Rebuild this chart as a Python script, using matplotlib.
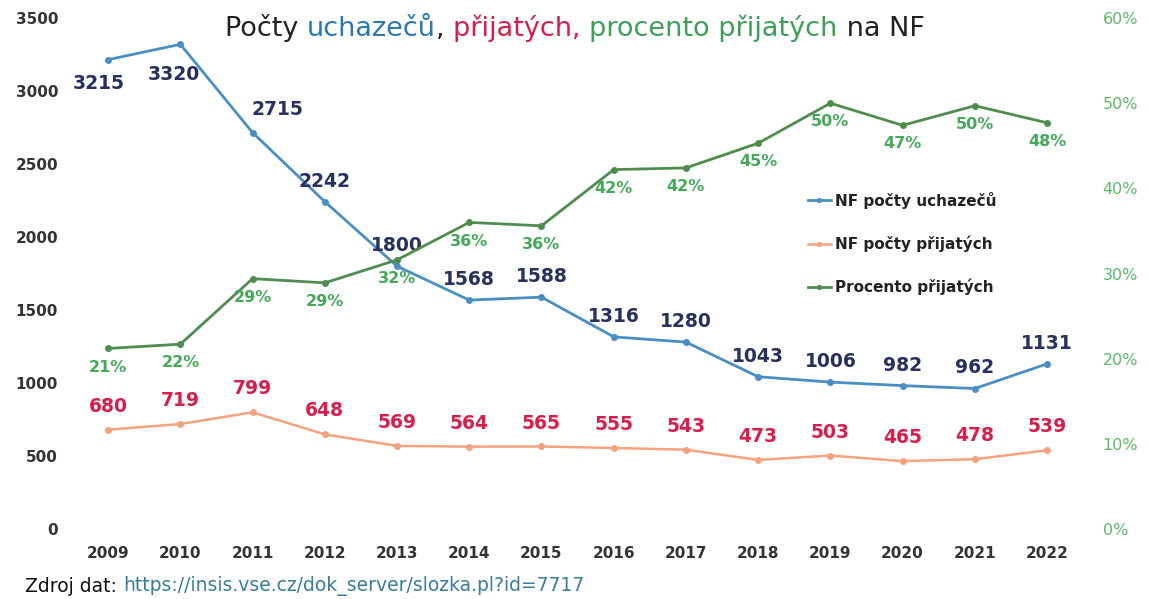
import matplotlib.pyplot as plt
import matplotlib.ticker as mticker

years = ["2009", "2010", "2011", "2012", "2013", "2014", "2015",
         "2016", "2017", "2018", "2019", "2020", "2021", "2022"]
uchazeci = [3215, 3320, 2715, 2242, 1800, 1568, 1588,
            1316, 1280, 1043, 1006, 982, 962, 1131]
prijati = [680, 719, 799, 648, 569, 564, 565,
           555, 543, 473, 503, 465, 478, 539]
procento = [21.2, 21.7, 29.4, 28.9, 31.6, 36.0, 35.6,
            42.2, 42.4, 45.3, 50.0, 47.4, 49.7, 47.7]

c_blue = "#4a8fc4"
c_orange = "#f5a27e"
c_green = "#4f8c50"
c_lab_blue = "#28305e"
c_lab_red = "#d81e4c"
c_lab_green = "#45a85a"

plt.rcParams.update({"font.family": "DejaVu Sans"})

fig = plt.figure(figsize=(11.49, 5.99), dpi=100)
ax = fig.add_axes([0.0627, 0.1169, 0.88, 0.853])
ax2 = ax.twinx()

x = list(range(len(years)))
l1, = ax.plot(x, uchazeci, color=c_blue, lw=2, marker="o", ms=4,
              label="NF počty uchazečů", zorder=3)
l2, = ax.plot(x, prijati, color=c_orange, lw=1.8, marker="o", ms=4,
              label="NF počty přijatých", zorder=3)
l3, = ax2.plot(x, [p / 100 for p in procento], color=c_green, lw=2,
               marker="o", ms=4, label="Procento přijatých", zorder=3)

ax.set_xlim(-0.5, len(years) - 0.5)
ax.set_ylim(0, 3500)
ax2.set_ylim(0, 0.6)
ax.set_yticks(range(0, 3501, 500))
ax2.set_yticks([i / 10 for i in range(7)])
ax2.yaxis.set_major_formatter(mticker.PercentFormatter(1.0, decimals=0))
ax.set_xticks(x)
ax.set_xticklabels(years)

for a in (ax, ax2):
    for s in a.spines.values():
        s.set_visible(False)
    a.tick_params(length=0)
ax.tick_params(axis="y", labelsize=11, labelcolor="#333333", pad=10)
ax.tick_params(axis="x", labelsize=11, labelcolor="#333333", pad=12)
for t in ax.get_yticklabels() + ax.get_xticklabels():
    t.set_fontweight("bold")
ax2.tick_params(axis="y", labelsize=11.5, labelcolor="#5cb86a", pad=14)

# data labels
for i, v in enumerate(uchazeci):
    if i == 0:
        dx, dy, va = -7, -10, "top"
    elif i == 1:
        dx, dy, va = -5, -15, "top"
    elif i == 2:
        dx, dy, va = 18, 10, "bottom"
    else:
        dx, dy, va = 0, 8, "bottom"
    ax.annotate(str(v), (i, v), textcoords="offset points", xytext=(dx, dy),
                ha="center", va=va, fontsize=13.5, fontweight="bold",
                color=c_lab_blue, zorder=5)
for i, v in enumerate(prijati):
    ax.annotate(str(v), (i, v), textcoords="offset points", xytext=(0, 10),
                ha="center", va="bottom", fontsize=13.5, fontweight="bold",
                color=c_lab_red, zorder=5)
for i, v in enumerate(procento):
    ax2.annotate(f"{v:.0f}%", (i, v / 100), textcoords="offset points",
                 xytext=(0, -8), ha="center", va="top", fontsize=11.5,
                 fontweight="bold", color=c_lab_green, zorder=5)

ax.legend(handles=[l1, l2, l3], loc="upper left",
          bbox_to_anchor=(800 / 1149, 1 - 184 / 599),
          bbox_transform=fig.transFigure, frameon=False, fontsize=11,
          handlelength=1.5, handletextpad=0.3, labelspacing=1.75,
          borderpad=0, markerscale=0.7)
for t in ax.get_legend().get_texts():
    t.set_fontweight("bold")
    t.set_color("#222222")

# multi-coloured title
parts = [("Počty ", "#222222"), ("uchazečů", "#2b78b2"), (", ", "#222222"),
         ("přijatých, ", c_lab_red), ("procento přijatých", "#3e9f58"),
         (" na NF", "#222222")]
prev = fig.text(225 / 1149, 1 - 36 / 599, parts[0][0], color=parts[0][1],
                fontsize=19.5, ha="left", va="baseline")
for txt, col in parts[1:]:
    prev = ax.annotate(txt, xy=(1, 0), xycoords=prev, ha="left",
                       va="bottom", fontsize=19.5, color=col,
                       annotation_clip=False)

src = fig.text(25 / 1149, 1 - 592 / 599, "Zdroj dat: ", color="#111111",
               fontsize=13.5, ha="left", va="baseline")
ax.annotate("https://insis.vse.cz/dok_server/slozka.pl?id=7717", xy=(1, 0),
            xycoords=src, ha="left", va="bottom", fontsize=13.5,
            color="#3a7c9c", annotation_clip=False)

fig.savefig("out.png", dpi=100, facecolor="white")
